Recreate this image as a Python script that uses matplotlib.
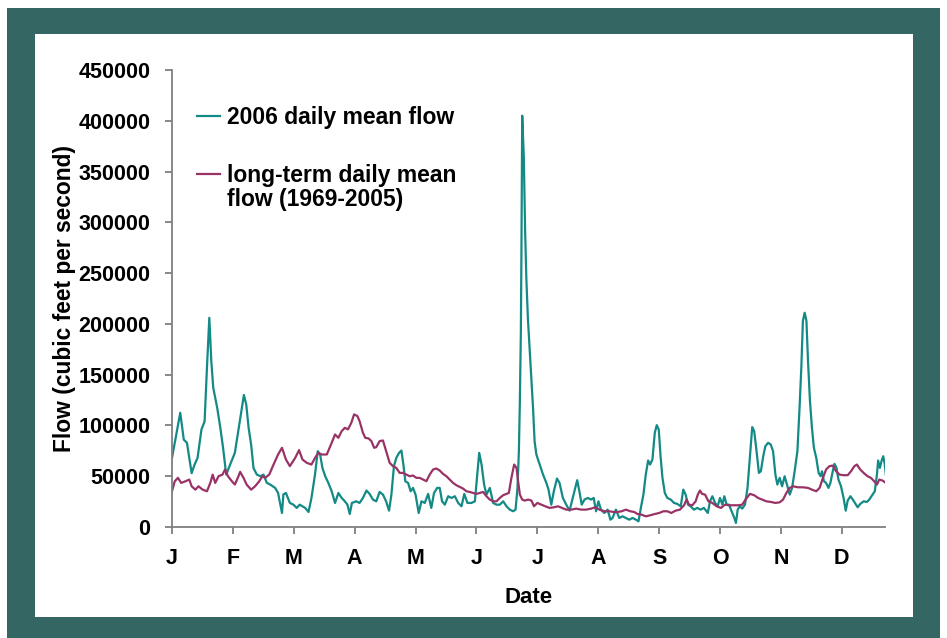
import matplotlib
matplotlib.use("Agg")
import matplotlib.pyplot as plt
from matplotlib.patches import Rectangle

plt.rcParams['font.family'] = ['Liberation Sans', 'DejaVu Sans']
plt.rcParams['font.weight'] = 'bold'

# 2006 daily mean flow (day of year, cfs)
flow_2006_day = [
    0, 4.2, 6, 7.6, 8.8, 10, 11.5, 13, 15, 16.6, 17.8, 19, 20, 21, 23, 24.6, 26, 27.6, 29.6,
    32, 34, 35.6, 36.6, 37.8, 39, 40.3, 41.5, 43.2, 45, 46.6, 48.3, 50, 52.5, 54, 56, 56.7, 58,
    59, 60, 61.8, 63.5, 65, 67.8, 69.5, 71, 72.8, 74.2, 75.4, 76.6, 78, 79.6, 81.3, 83, 84.7,
    86.4, 88, 89.3, 90.5, 91.6, 93.8, 95.5, 97.2, 99, 100.6, 102.3, 104, 105.7, 107.4, 109,
    110.5, 111.7, 113, 114.2, 115.6, 116.8, 117.8, 118.8, 120.2, 121.5, 122.7, 124, 125.6, 127,
    128.7, 130.4, 132, 133.4, 135, 136.3, 137.5, 138.9, 140.6, 142.3, 144, 145.7, 147.4, 148.8,
    150.4, 152.5, 154.2, 155.4, 156.4, 157.6, 158.9, 160.1, 161.8, 163.5, 165.2, 166.9, 168.6,
    170.3, 172, 173.7, 174.9, 175.9, 176.6, 177.1, 177.6, 177.9, 178.3, 179.1, 179.8, 180.4,
    181.2, 181.8, 182.6, 183.8, 184.6, 185.5, 187.2, 188.9, 190.6, 191.7, 193.1, 194.4, 196,
    197.3, 199, 200.7, 202.4, 204, 205.3, 206.3, 207.4, 208.6, 210, 211.7, 213.4, 214.7, 215.9,
    217.1, 218.4, 220.1, 221.8, 223.2, 224.3, 226, 227.7, 229.4, 231.1, 232.8, 234.5, 236.2,
    237.5, 238.7, 240, 241.2, 242.4, 243.4, 244.6, 245.8, 246.8, 247.8, 248.8, 249.7, 250.9,
    252.2, 253.9, 255.6, 257.3, 259, 260.3, 261.5, 262.7, 264, 265.7, 267.4, 269.1, 270.8,
    272.8, 273.9, 275.1, 276.5, 277.8, 279, 280.2, 281.2, 282.4, 283.6, 284.9, 286.3, 287.1,
    288, 289.1, 290.3, 291.7, 293, 294.2, 295.4, 296.4, 297.6, 298.8, 299.8, 301, 302.1, 303.5,
    304.8, 306, 307.2, 308.2, 309.4, 310.6, 311.9, 313.3, 314.5, 315.7, 317, 318.4, 319.5,
    320.4, 321.2, 322.1, 323, 323.8, 324.8, 325.8, 326.8, 328, 329.2, 330.2, 330.9, 331.9, 333,
    334.2, 335.2, 336.4, 337.3, 338.3, 339.3, 340.6, 341.9, 343, 344, 345.4, 346.6, 347.7,
    349.1, 350.4, 352.1, 353.8, 355, 356.7, 357.8, 358.9, 359.5, 360.4, 361.2, 362.1, 362.9,
    363.4,
]
flow_2006 = [
    68000, 112500, 86000, 83000, 68000, 53000, 61500, 68000, 96000, 104000, 157000, 206000,
    163500, 137000, 117500, 97700, 78000, 51600, 61500,
    73000, 97700, 117500, 130000, 120700, 97700, 81000, 58000, 51600, 50000, 51600, 43400,
    41800, 38500, 33500, 13800, 32000, 33500,
    28600, 23700, 22000, 18800, 22000, 18800, 14800, 28600, 51600, 74700, 71400, 58000, 50000,
    43400, 35200, 23700, 33500,
    28600, 25300, 22000, 12800, 23700, 25300, 23700, 28600, 35900, 32600, 27000, 25300, 34500,
    31900, 25300,
    16100, 31900, 59900, 68000, 73000, 75300, 61500, 45000, 43400, 35200, 38500, 31900, 13800,
    25300,
    23700, 32600, 18800, 33500, 38500, 38500, 25300, 22000, 30300, 28600, 30300, 23700, 20400,
    32600,
    23700, 23700, 25300, 51600, 73000, 61500, 41800, 31900, 38500, 23700, 22000, 22000, 25300,
    20400, 17100, 15500, 17100, 38500, 74700, 124000, 190000, 270000, 405000, 365000, 290000,
    245000,
    205000, 185000, 157000, 117500, 84500, 71400, 61500, 51600, 43400, 36800, 22000, 35200,
    47700,
    43400, 28600, 22000, 16100, 28600, 38500, 46100, 35200, 22000, 27000, 28600, 27000, 28600,
    15500,
    25300, 17100, 13800, 17100, 7200, 8900, 17100, 8900, 10500, 8900, 7200, 8900, 7200,
    5600, 18800, 31900, 51600, 65500, 61500, 66500, 92800, 100300, 96100, 68100, 48400, 33500,
    28600, 27000, 23700, 22700, 20400, 36800, 31900, 22000, 20400, 17100, 18800, 17100, 18800,
    13800, 25300, 30300, 23700, 20400, 28600, 22000, 30300, 22000, 22000, 15500, 8900, 4000,
    17100, 20400, 18100, 22000, 38500, 68100, 98400, 94400, 74700, 53300, 54900, 69700, 79600,
    82900,
    81300, 74700, 51600, 41800, 48400, 40100, 50000, 40100, 31900, 38500, 54900, 74700, 117500,
    157000, 203000, 211000, 203000, 163500, 124000, 97700, 78000, 68100, 53300, 50000, 54900,
    45100, 43400,
    38500, 43400, 54900, 62200, 58200, 46700, 40100, 28600, 16100, 26000, 30300, 27000, 23700,
    19400, 22700, 25300, 24700, 27000, 31900, 35200, 51600, 65500, 58200, 64800, 69700, 61500,
    51600,
]

# long-term daily mean flow 1969-2005 (day of year, cfs)
longterm_day = [
    0, 1.4, 3, 4.7, 6.8, 8.8, 10, 11.9, 13.5, 15.6, 17.8, 19.5, 20.7, 22, 23.7, 25.7, 27, 28.5,
    30.5, 32, 33.5, 34.7, 36.4, 38, 40.3, 42.3, 44.4, 46, 47.4, 49.5, 51.7, 54, 56, 58, 60,
    62.7, 64.7, 66.4, 68.6, 71, 72.8, 74.5, 76.2, 78.8, 81.3, 83, 84.7, 86.4, 88, 89.6, 91.3,
    92.7, 94.4, 95.5, 97.2, 98.4, 100.1, 101.5, 102.9, 104, 105.7, 107.4, 109, 110.8, 112.5,
    114.2, 115.9, 117.6, 119.3, 121, 122.7, 124.4, 126.1, 127.8, 129.5, 131.2, 132.9, 134.6,
    136.3, 138, 139.7, 141.4, 143.1, 144.8, 146.5, 148.2, 149.9, 151.6, 153.3, 155, 156.7,
    158.4, 160.1, 161.8, 163.5, 165.2, 166.9, 168.6, 170.3, 171.5, 172.8, 174.2, 175.4, 176.2,
    177.1, 178.3, 179.6, 181.3, 183, 184.3, 186, 188, 190, 192.2, 194.4, 196.5, 198.5, 200.7,
    203.2, 205.8, 208.3, 210.8, 213.4, 215.4, 217.6, 220.1, 222.7, 224.8, 226.9, 228.9, 231.1,
    233.3, 235.3, 237, 239, 241.2, 243.4, 245.8, 248, 250.2, 252.2, 254.2, 256.4, 258.6, 260.7,
    262, 263.2, 264.9, 266.6, 267.7, 268.8, 269.9, 271.4, 273.1, 275.1, 277.3, 279.5, 281.5,
    283.6, 285.8, 288.3, 290.3, 292, 294.2, 296.4, 298.4, 300.5, 302.6, 304.8, 307.2, 309.4,
    311.1, 312.8, 314.5, 316.2, 318.7, 321.2, 323.8, 325.8, 328, 329.7, 331.4, 333, 334.7,
    336.4, 338.1, 339.8, 341.9, 344, 345.7, 347.4, 348.7, 350.4, 352.1, 354.1, 355.8, 357.5,
    358.9, 360.1, 361.8, 363.4,
]
longterm = [
    35200, 45000, 48400, 43400, 45000, 46700, 40100, 36800, 40100, 36800, 35200, 43400, 51600,
    43400, 50000, 51600, 56600, 50000,
    45000, 41800, 48400, 54300, 48400, 41800, 36800, 40100, 45000, 50000, 48400, 51600, 61500,
    71400, 78000, 66500, 59900,
    68000, 75700, 66500, 63200, 61500, 68000, 73000, 71400, 71400, 82900, 91100, 87800, 94400,
    97700, 96100, 102600,
    110900, 109200, 104300, 92800, 87800, 87200, 84600, 78000, 78600, 84600, 85200, 74700,
    63200, 59900,
    58200, 53300, 53300, 51600, 50000, 50700, 48400, 48400, 46700, 45100, 51600, 56600, 57600,
    55600, 52300, 50000, 46700, 43400, 41100, 39500, 37800, 35200, 34500, 33600, 32600, 33600,
    34500, 30300, 27000, 25300, 25300, 28600, 31300, 32600, 33600, 48400, 61500, 58200, 45100,
    31900, 27000, 26000, 27000, 26000, 20400, 23700, 22000, 20400, 18800, 19400, 20400, 18800,
    17100,
    17100, 18100, 17100, 17100, 18100, 19400, 17100, 15500, 15500, 14800, 14800, 15500, 17100,
    15500, 14800, 12800, 12200, 10500, 11500, 12800, 13800, 15500, 15500, 13800, 16100, 17100,
    21400,
    27000, 22000, 21400, 25300, 31900, 35900, 32600, 31900, 25300, 23700, 20400, 18800, 22000,
    21400, 21400, 21400, 22000, 27000, 32600, 31300, 28600, 27000, 25300, 24700, 23700, 24300,
    27000, 33600, 38500, 40100, 39100, 39100, 38500, 36800, 35200, 38500, 48400, 56600, 59900,
    60500, 54900, 51600, 51000, 51000, 54900, 59900, 61500, 56600, 53300, 50000, 48400, 45100,
    41800, 46700, 45700, 43400,
]

month_ticks = [0, 31, 62, 93, 124, 155, 186, 217, 248, 279, 310, 341]
month_labels = ['J', 'F', 'M', 'A', 'M', 'J', 'J', 'A', 'S', 'O', 'N', 'D']
y_ticks = list(range(0, 450001, 50000))

fig = plt.figure(figsize=(9.47, 6.38), dpi=100)
W, H = 947, 638

# dark teal slide frame with white panel
fig.patches.append(Rectangle((7 / W, 0), 933 / W, 630 / H, transform=fig.transFigure,
                             facecolor='#346664', edgecolor='none', zorder=-2))
fig.patches.append(Rectangle((35 / W, 21 / H), 878 / W, 583 / H, transform=fig.transFigure,
                             facecolor='white', edgecolor='none', zorder=-1))

ax = fig.add_axes([172 / W, 1 - 527 / H, 713 / W, 457 / H])
ax.patch.set_alpha(0)

ax.plot(flow_2006_day, flow_2006, color='#138a86', lw=1.6, label='2006 daily mean flow')
ax.plot(longterm_day, longterm, color='#993366', lw=1.6,
        label='long-term daily mean\nflow (1969-2005)')

ax.set_xlim(0, 363)
ax.set_ylim(0, 450000)
ax.set_xticks(month_ticks)
ax.set_xticklabels(month_labels)
ax.set_yticks(y_ticks)
ax.set_yticklabels([str(v) for v in y_ticks])

for side in ['top', 'right']:
    ax.spines[side].set_visible(False)
for side in ['left', 'bottom']:
    ax.spines[side].set_color('#7f7f7f')
    ax.spines[side].set_linewidth(1.3)
ax.tick_params(axis='both', colors='#7f7f7f', labelcolor='black', width=1.3, length=5,
               labelsize=15.5)
ax.tick_params(axis='x', pad=10)
ax.tick_params(axis='y', pad=10.5)

ax.set_xlabel('Date', fontsize=16, fontweight='bold', labelpad=13)
ax.set_ylabel('Flow (cubic feet per second)', fontsize=16.4, fontweight='bold', labelpad=2)

leg = ax.legend(loc='upper left', bbox_to_anchor=(0.022, 0.941), frameon=False,
                fontsize=16.5, handlelength=1.0, handletextpad=0.3, labelspacing=1.5,
                borderaxespad=0)
for t in leg.get_texts():
    t.set_linespacing(1.1)
# put the key of the two-line entry level with its first line
key = leg.legend_handles[1]
key.set_ydata([y + 10 for y in key.get_ydata()])

fig.savefig('out.png', dpi=100)
